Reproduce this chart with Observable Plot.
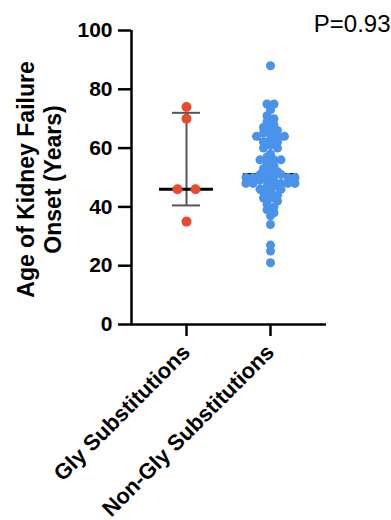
<!DOCTYPE html>
<html><head><meta charset="utf-8">
<script src="https://cdn.jsdelivr.net/npm/d3@7"></script>
<script src="https://cdn.jsdelivr.net/npm/@observablehq/plot@0.6"></script>
<style>
html,body{margin:0;padding:0;background:#fff;}
#chart svg{display:block;}
</style></head><body><div id="chart"></div>
<script>
// ---- data ----
const categories = ["Gly Substitutions", "Non-Gly Substitutions"];
const glyValues = [74, 70, 46, 46, 35];
const nonGlyValues = [88, 75, 75, 73, 71, 70, 69, 68, 67, 67, 66, 65, 65, 64, 64, 64, 63, 62, 62, 61, 60, 60, 58, 57, 56, 56, 56, 55, 54, 53, 53, 52, 51, 51, 51, 51, 50, 50, 50, 50, 49, 49, 49, 48, 48, 48, 48, 48, 47, 47, 46, 46, 45, 45, 44, 43, 43, 42, 41, 40, 39, 38, 37, 34, 27, 25, 21];
const yTicks = [0, 20, 40, 60, 80, 100];
const pValueLabel = "P=0.93";
const yTitle = "Age of Kidney Failure\nOnset (Years)";
const colors = ["#e94b2e", "#4a93eb"];

// ---- layout ----
const W = 391, H = 520, mL = 131, mR = 65, mT = 30, mB = 196;
const xDomain = [0.345, 2.667];
const yDomain = [0, 100];
const xPx = (W - mL - mR) / (xDomain[1] - xDomain[0]);
const medHalf = 27, capHalf = 14;

// quartiles (n+1)p method
function q6(s, p) {
  const n = s.length, h = (n + 1) * p, lo = Math.floor(h);
  if (lo < 1) return s[0];
  if (lo >= n) return s[n - 1];
  return s[lo - 1] + (h - lo) * (s[lo] - s[lo - 1]);
}
const groups = [glyValues, nonGlyValues];
const stats = groups.map((vals, i) => {
  const s = vals.slice().sort(d3.ascending);
  return {x: i + 1, med: q6(s, 0.5), q1: q6(s, 0.25), q3: q6(s, 0.75)};
});

// symmetric row swarm
function swarm(values, pos, spacingPx, binUnits) {
  const bins = d3.group(values, v => Math.floor(v / binUnits));
  const out = [];
  for (const [, vs] of bins) {
    const k = vs.length;
    const offs = d3.range(k).map(j => (j - (k - 1) / 2) * spacingPx);
    offs.sort((a, b) => Math.abs(a) - Math.abs(b) || a - b);
    vs.slice().sort((a, b) => b - a).forEach((v, j) =>
      out.push({group: categories[pos - 1], x: pos + offs[j] / xPx, y: v}));
  }
  return out;
}
const glyPts = swarm(glyValues, 1, 18, 2);
const nonGlyPts = swarm(nonGlyValues, 2, 7, 2);

const chart = Plot.plot({
  width: W, height: H,
  marginLeft: mL, marginRight: mR, marginTop: mT, marginBottom: mB,
  x: {type: "linear", domain: xDomain},
  y: {domain: yDomain},
  color: {domain: categories, range: colors},
  style: {fontFamily: "'Liberation Sans', Arial, sans-serif", background: "#fff", color: "#000", overflow: "visible"},
  marks: [
    Plot.ruleX(stats, {x: "x", y1: "q1", y2: "q3", stroke: "#555", strokeWidth: 2}),
    Plot.ruleY(stats, {y: "q1", x1: d => d.x - capHalf / xPx, x2: d => d.x + capHalf / xPx, stroke: "#555", strokeWidth: 2}),
    Plot.ruleY(stats, {y: "q3", x1: d => d.x - capHalf / xPx, x2: d => d.x + capHalf / xPx, stroke: "#555", strokeWidth: 2}),
    Plot.ruleY(stats, {y: "med", x1: d => d.x - medHalf / xPx, x2: d => d.x + medHalf / xPx, stroke: "#000", strokeWidth: 3}),
    Plot.dot(glyPts, {x: "x", y: "y", r: 5, fill: "group"}),
    Plot.dot(nonGlyPts, {x: "x", y: "y", r: 4.5, fill: "group"}),
    Plot.ruleX([xDomain[0]], {y1: yDomain[0], y2: yDomain[1], strokeWidth: 2.5}),
    Plot.ruleY([yDomain[0]], {strokeWidth: 2.5}),
    Plot.axisY(yTicks, {tickSize: 13, tickPadding: 6, fontSize: 21, fontWeight: "bold", strokeWidth: 2.5, label: null}),
    Plot.axisX([1, 2], {tickFormat: d => categories[d - 1], tickRotate: -45, tickSize: 12, tickPadding: 12, fontSize: 22, fontWeight: "bold", strokeWidth: 2.5, label: null}),
    Plot.text([yTitle], {text: d => d, frameAnchor: "left", rotate: -90, dx: -93, dy: 2, textAnchor: "middle", lineAnchor: "middle", fontSize: 23, fontWeight: "bold", lineHeight: 1.17}),
    Plot.text([pValueLabel], {text: d => d, frameAnchor: "top-right", dx: 64, dy: -6, textAnchor: "end", lineAnchor: "middle", fontSize: 24})
  ]
});
document.getElementById("chart").appendChild(chart);
</script>
</body></html>
